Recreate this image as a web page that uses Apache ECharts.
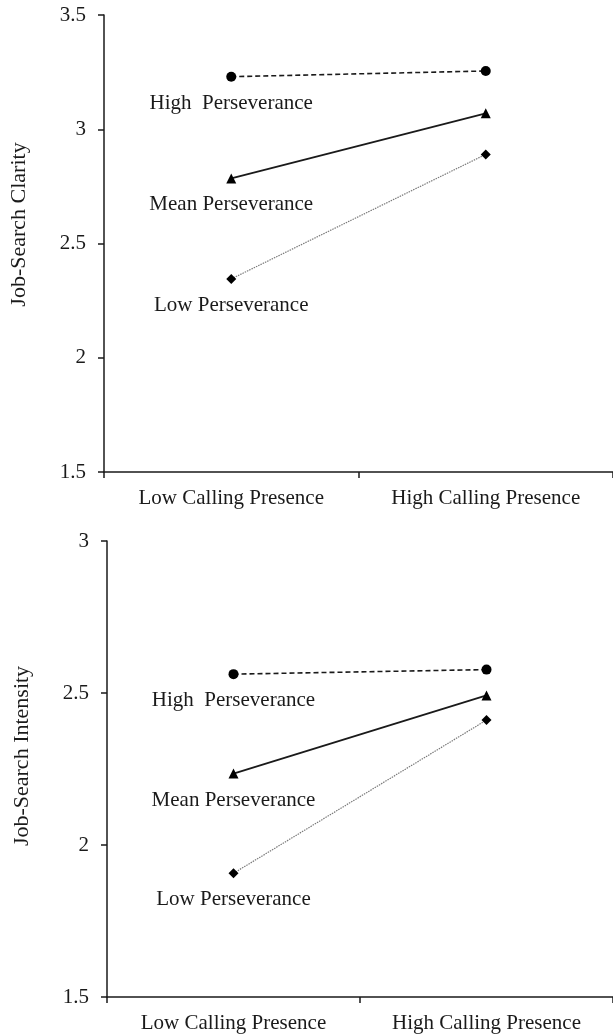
<!DOCTYPE html>
<html>
<head>
<meta charset="utf-8">
<script src="https://cdn.jsdelivr.net/npm/echarts@6/dist/echarts.min.js"></script>
<style>
html,body{margin:0;padding:0;background:#fff;}
#chart{width:613px;height:1036px;}
</style>
</head>
<body>
<div id="chart"></div>
<script>
// ---- data ----
const categories = ['Low Calling Presence', 'High Calling Presence'];
const levelNames = ['High  Perseverance', 'Mean Perseverance', 'Low Perseverance'];

// Panel 1: Job-Search Clarity
const clarityHigh = [3.23, 3.255];
const clarityMean = [2.785, 3.07];
const clarityLow  = [2.345, 2.89];

// Panel 2: Job-Search Intensity
const intensityHigh = [2.562, 2.577];
const intensityMean = [2.235, 2.492];
const intensityLow  = [1.907, 2.411];

const yTitles = ['Job-Search Clarity', 'Job-Search Intensity'];
const yRanges = [[1.5, 3.5], [1.5, 3]];
const yInterval = 0.5;

// ---- styles ----
const FONT = '"Liberation Serif", "Times New Roman", serif';
const INK = '#1a1a1a';
const lineStyles = [
  {color: INK, width: 1.6, type: [5, 3]},
  {color: INK, width: 1.8, type: 'solid'},
  {color: '#7a7a7a', width: 1.2, type: [1.5, 1]}
];
const symbols = ['circle', 'triangle', 'diamond'];
const symbolSizes = [10, 10, 10];

function makeSeries(values, gridIdx, k) {
  const data = values.map((v, i) => {
    if (i === 0) {
      return {
        value: v,
        label: {
          show: true,
          position: 'bottom',
          distance: 11,
          formatter: levelNames[k],
          fontFamily: FONT,
          fontSize: 21,
          color: INK
        }
      };
    }
    return v;
  });
  return {
    type: 'line',
    name: levelNames[k],
    xAxisIndex: gridIdx,
    yAxisIndex: gridIdx,
    data: data,
    symbol: symbols[k],
    symbolSize: symbolSizes[k],
    showSymbol: true,
    lineStyle: lineStyles[k],
    itemStyle: {color: '#000'},
    label: {show: false},
    emphasis: {disabled: true},
    animation: false,
    z: 3 - k
  };
}

const grids = [
  {left: 104, top: 15, width: 510, height: 457},
  {left: 107, top: 541, width: 510, height: 456}
];

const xAxes = grids.map((g, i) => ({
  type: 'category',
  gridIndex: i,
  data: categories,
  boundaryGap: true,
  axisLine: {lineStyle: {color: INK, width: 1.5}},
  axisTick: {show: true, length: 6, lineStyle: {color: INK, width: 1.5}},
  axisLabel: {fontFamily: FONT, fontSize: 21, color: INK, margin: 16},
  splitLine: {show: false}
}));

const yAxes = grids.map((g, i) => ({
  type: 'value',
  gridIndex: i,
  min: yRanges[i][0],
  max: yRanges[i][1],
  interval: yInterval,
  name: yTitles[i],
  nameLocation: 'middle',
  nameGap: 74,
  nameRotate: 90,
  nameTextStyle: {fontFamily: FONT, fontSize: 22, color: INK, padding: [0, 0, 0, i === 0 ? 38 : 26]},
  axisLine: {show: true, lineStyle: {color: INK, width: 1.5}},
  axisTick: {show: true, length: 6, lineStyle: {color: INK, width: 1.5}},
  axisLabel: {fontFamily: FONT, fontSize: 21, color: INK, margin: 18},
  splitLine: {show: false}
}));

const option = {
  backgroundColor: '#fff',
  animation: false,
  grid: grids,
  xAxis: xAxes,
  yAxis: yAxes,
  series: [
    makeSeries(clarityHigh, 0, 0),
    makeSeries(clarityMean, 0, 1),
    makeSeries(clarityLow, 0, 2),
    makeSeries(intensityHigh, 1, 0),
    makeSeries(intensityMean, 1, 1),
    makeSeries(intensityLow, 1, 2)
  ]
};

const chart = echarts.init(document.getElementById('chart'), null, {renderer: 'canvas'});
chart.setOption(option);
</script>
</body>
</html>
